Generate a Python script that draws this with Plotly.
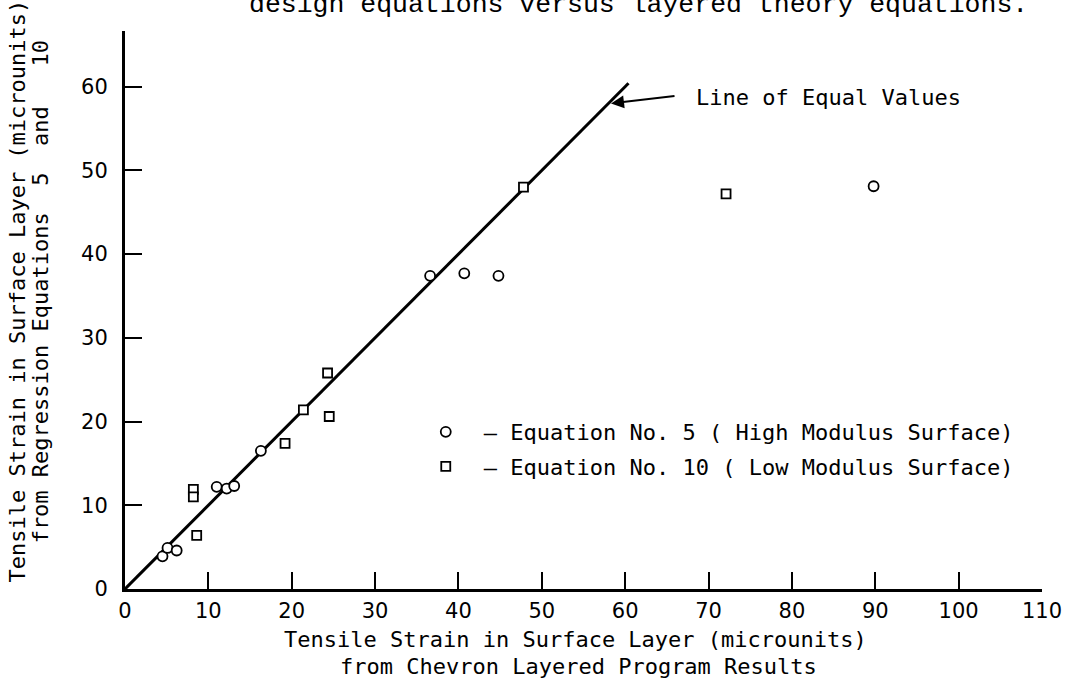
import plotly.graph_objects as go

# Equation No. 5 (high modulus surface): layered program vs regression strain
eq5_x = [4.5, 5.1, 6.2, 11.0, 12.2, 13.1, 16.3, 36.6, 40.7, 44.8, 89.8]
eq5_y = [3.9, 4.9, 4.6, 12.2, 12.0, 12.3, 16.5, 37.4, 37.7, 37.4, 48.1]

# Equation No. 10 (low modulus surface)
eq10_x = [8.2, 8.2, 8.6, 19.2, 21.4, 24.3, 24.5, 47.8, 72.1]
eq10_y = [11.9, 11.0, 6.4, 17.4, 21.4, 25.8, 20.6, 48.0, 47.2]

# line of equal values runs from the origin up to this strain
equal_line = [0, 60.4]

x_ticks = [0, 10, 20, 30, 40, 50, 60, 70, 80, 90, 100, 110]
y_ticks = [0, 10, 20, 30, 40, 50, 60]

LETTER = "DejaVu Sans Mono"
TYPE = "Liberation Mono"
NB = "\u00a0"

# plot-area geometry in pixels, used to place the free text
L, R, T, B = 125, 28, 31, 92
W, H = 1074 - L - R, 681 - T - B


def px(xp):
    return (xp - L) / W


def py(yp):
    return (681 - B - yp) / H


fig = go.Figure()

fig.add_trace(go.Scatter(
    x=equal_line, y=equal_line, mode="lines",
    line=dict(color="black", width=3), showlegend=False, hoverinfo="skip",
))

marker_line = dict(color="black", width=1.8)
fig.add_trace(go.Scatter(
    x=eq5_x, y=eq5_y, mode="markers",
    name="\u2013 Equation No. 5 ( High Modulus Surface)",
    legendgroup="eq5",
    marker=dict(symbol="circle", size=10, color="white", line=marker_line),
))
fig.add_trace(go.Scatter(
    x=eq10_x, y=eq10_y, mode="markers",
    name="\u2013 Equation No. 10 ( Low Modulus Surface)",
    legendgroup="eq10",
    marker=dict(symbol="square", size=9, color="white", line=marker_line),
))

axis_common = dict(
    showgrid=False, zeroline=False, showline=True, linecolor="black", linewidth=3,
    ticks="inside", ticklen=17, tickcolor="black",
    tickfont=dict(family="DejaVu Sans", size=21, color="black"),
)
fig.update_xaxes(range=[0, 110], tickvals=x_ticks, ticktext=[str(v) for v in x_ticks],
                 tickwidth=1.5, ticklabelstandoff=1, **axis_common)
fig.update_yaxes(range=[0, H / (W / 110)], tickvals=y_ticks, ticktext=[str(v) for v in y_ticks],
                 tickwidth=2, ticklabelstandoff=10, **axis_common)

annotations = [
    dict(text="design equations versus layered theory equations.",
         xref="paper", yref="paper", x=px(248), y=py(22), xanchor="left", yanchor="bottom",
         showarrow=False, font=dict(family=TYPE, size=26.5, color="black")),
    dict(text="Tensile Strain in Surface Layer (microunits)",
         xref="paper", yref="paper", x=px(17), y=py(291), xanchor="center", yanchor="middle",
         textangle=-90, showarrow=False, font=dict(family=LETTER, size=22, color="black")),
    dict(text=f"from Regression Equations{NB*2}5{NB*2}and{NB*3}10",
         xref="paper", yref="paper", x=px(40), y=py(292), xanchor="center", yanchor="middle",
         textangle=-90, showarrow=False, font=dict(family=LETTER, size=22, color="black")),
    dict(text="Tensile Strain in Surface Layer (microunits)",
         xref="paper", yref="paper", x=px(577), y=py(639), xanchor="center", yanchor="middle",
         showarrow=False, font=dict(family=LETTER, size=22, color="black")),
    dict(text=f"from Chevron Layered Program{NB}Results",
         xref="paper", yref="paper", x=px(580), y=py(667), xanchor="center", yanchor="middle",
         showarrow=False, font=dict(family=LETTER, size=22, color="black")),
    dict(text="", x=58.3, y=58.0, xref="x", yref="y", ax=65, ay=-7.6,
         showarrow=True, arrowhead=2, arrowsize=1.3, arrowwidth=2, arrowcolor="black"),
    dict(text="Line of Equal Values", x=68.2, y=58.7, xref="x", yref="y",
         xanchor="left", yanchor="middle", showarrow=False,
         font=dict(family=LETTER, size=22, color="black")),
]

fig.update_layout(
    width=1074, height=681,
    margin=dict(l=L, r=R, t=T, b=B),
    paper_bgcolor="white", plot_bgcolor="white",
    annotations=annotations,
    showlegend=True,
    legend=dict(
        x=px(409), y=py(411), xanchor="left", yanchor="top",
        itemwidth=66, tracegroupgap=3, bgcolor="rgba(0,0,0,0)",
        font=dict(family=LETTER, size=22, color="black"),
    ),
)

fig.write_html("out.html")
